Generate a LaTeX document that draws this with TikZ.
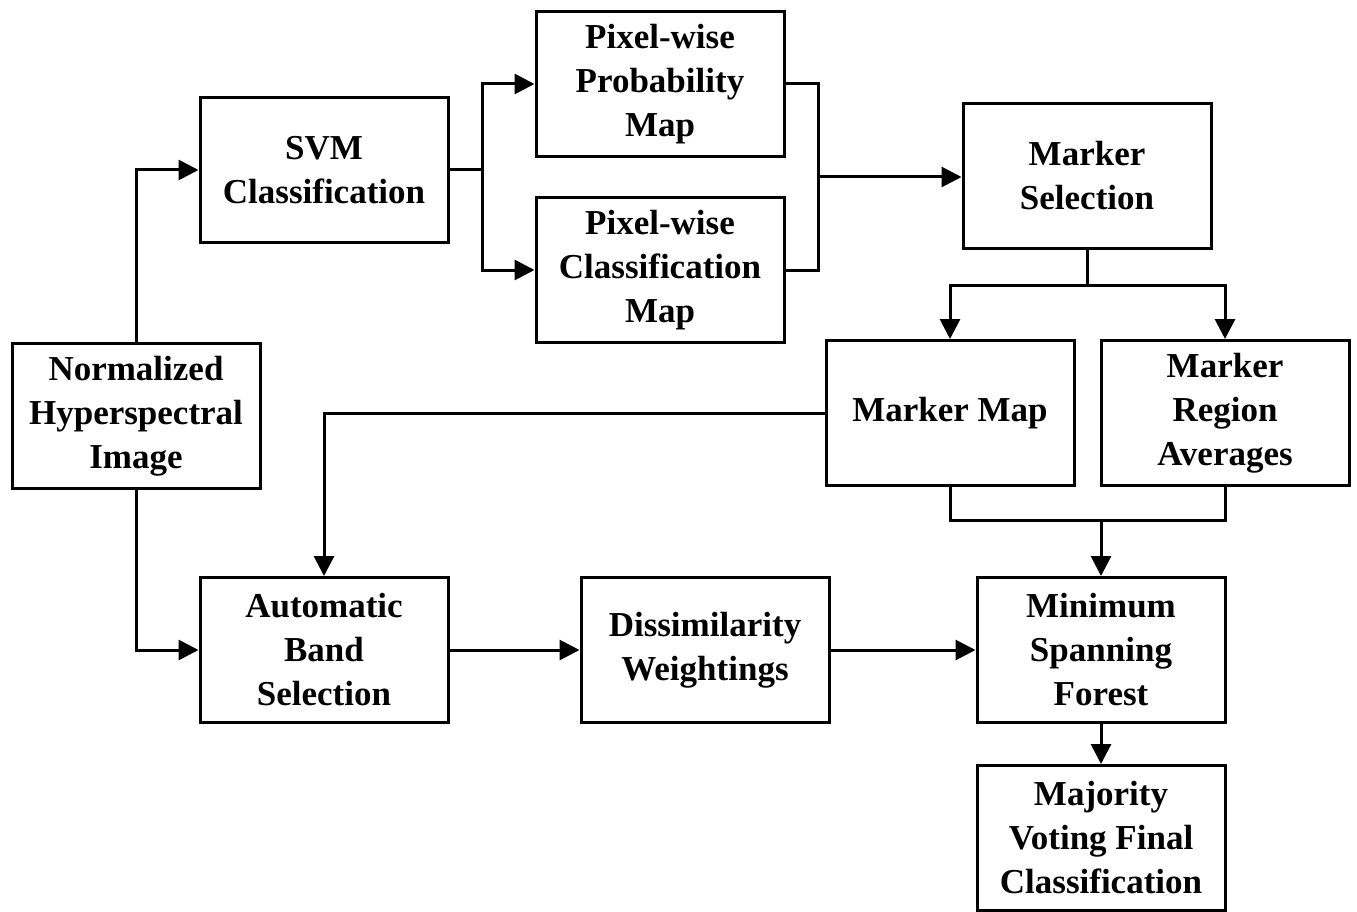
\documentclass[tikz,border=0pt]{standalone}
\usepackage{fontspec}
\setmainfont{Liberation Serif}
\usetikzlibrary{arrows.meta}
\begin{document}
\begin{tikzpicture}[x=1pt,y=-1pt,
 box/.style={draw,line width=3pt,minimum width=248pt,minimum height=145pt,align=center,font=\fontsize{35}{44}\selectfont\bfseries,inner sep=0pt},
 conn/.style={line width=3pt},
 arr/.style={conn,-{Triangle[length=20pt,width=20pt]}}]
\useasboundingbox (0,0) rectangle (1357,912);
\node[box] (nhi) at (136,416) {Normalized\\Hyperspectral\\Image};
\node[box] (svm) at (324,170) {SVM\\Classification};
\node[box] (ppm) at (660,84) {Pixel-wise\\Probability\\Map};
\node[box] (pcm) at (660,270) {Pixel-wise\\Classification\\Map};
\node[box] (ms) at (1087,176) {Marker\\Selection};
\node[box] (mm) at (950,413) {Marker Map};
\node[box] (mra) at (1225,413) {Marker\\Region\\Averages};
\node[box] (abs) at (324,650) {Automatic\\Band\\Selection};
\node[box] (dw) at (705,650) {Dissimilarity\\Weightings};
\node[box] (msf) at (1101,650) {Minimum\\Spanning\\Forest};
\node[box] (mv) at (1101,838) {Majority\\Voting Final\\Classification};
\coordinate (s1) at (482,170);
\coordinate (m1) at (818,177);
\coordinate (m2) at (1087,285);
\coordinate (m3) at (1101,520);
\draw[arr] (nhi.north) |- (svm.west);
\draw[arr] (nhi.south) |- (abs.west);
\draw[conn] (svm.east) -- (s1);
\draw[arr] (s1) |- (ppm.west);
\draw[arr] (s1) |- (pcm.west);
\draw[conn] (ppm.east) -| (m1 |- pcm.east) -- (pcm.east);
\draw[arr] (m1) -- (m1 -| ms.west);
\draw[conn] (ms.south) -- (m2);
\draw[arr] (m2) -| (mm.north);
\draw[arr] (m2) -| (mra.north);
\draw[arr] (mm.west) -| (abs.north);
\draw[conn] (mm.south) |- (m3) -| (mra.south);
\draw[arr] (m3) -- (msf.north);
\draw[arr] (abs.east) -- (dw.west);
\draw[arr] (dw.east) -- (msf.west);
\draw[arr] (msf.south) -- (mv.north);
\end{tikzpicture}
\end{document}
